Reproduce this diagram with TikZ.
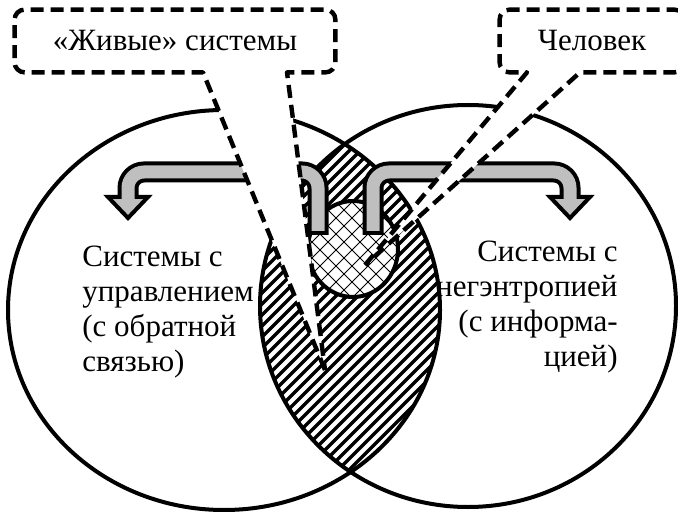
\documentclass[tikz,border=0pt]{standalone}
\usepackage{fontspec}
\setmainfont{Liberation Serif}
\newcommand{\bodysz}{\fontsize{15.5}{17.5}\selectfont}

\begin{document}
\begin{tikzpicture}[
  x=0.5pt, y=-0.5pt,
  ring/.style={line width=2pt},
  hatch/.style={line width=1.7pt},
  xhatch/.style={line width=0.4pt},
  shaftout/.style={line width=10.5pt, rounded corners=8pt},
  shaftin/.style={line width=6.5pt, gray!50, rounded corners=8pt},
  head/.style={draw, line width=2pt, fill=gray!50, line join=miter},
  callout/.style={draw, line width=2.2pt, dash pattern=on 6.5pt off 3.5pt, fill=white, line join=round},
  boxframe/.style={inner sep=0pt, minimum height=31pt},
  txt/.style={font=\bodysz, inner sep=0pt},
]
  \useasboundingbox (0,0) rectangle (678,512);

  % lens of the two sets
  \begin{scope}
    \clip (224,310) ellipse [x radius=216, y radius=200];
    \clip (468,306) ellipse [x radius=208, y radius=201];
    \foreach \s in {-90,-79,...,460} \draw[hatch] (\s,480) -- ++(400,-400);
  \end{scope}

  % the small set inside the lens
  \fill[white] (353,249) ellipse [x radius=45, y radius=48];
  \begin{scope}
    \clip (353,249) ellipse [x radius=45, y radius=48];
    \foreach \s in {180,196,...,410} \draw[xhatch] (\s,310) -- ++(125,-125);
    \foreach \s in {300,316,...,530} \draw[xhatch] (\s,310) -- ++(-125,-125);
  \end{scope}
  \draw[ring] (353,249) ellipse [x radius=45, y radius=48];

  \draw[ring] (224,310) ellipse [x radius=216, y radius=200];
  \draw[ring] (468,306) ellipse [x radius=208, y radius=201];

  \node[txt, anchor=north west, align=left] (ctrl) at (82,246)
    {Системы с\\управлением\\(с обратной\\связью)};
  \node[txt, anchor=north east, align=right] (negent) at (618,241)
    {Системы с\\негэнтропией\\(с информа-\\цией)};

  % bent arrows out of the lens
  \draw[shaftout] (318,235) -- (318,172) -- (128,172) -- (128,197);
  \draw[head] (108,197) -- (148,197) -- (128,218) -- cycle;
  \draw[shaftin] (318,231) -- (318,172) -- (128,172) -- (128,200);

  \draw[shaftout] (373,235) -- (373,172) -- (570,172) -- (570,197);
  \draw[head] (550,197) -- (590,197) -- (570,218) -- cycle;
  \draw[shaftin] (373,231) -- (373,172) -- (570,172) -- (570,200);

  % callouts
  \node[boxframe, minimum width=160pt] (live) at (175,41) {};
  \coordinate (livetip) at (325,370);
  \draw[callout] (livetip) -- (203,0 |- live.south) [rounded corners=5pt] -- (live.south west)
    -- (live.north west) -- (live.north east) -- (live.south east) [sharp corners] -- (287,0 |- live.south) -- cycle;
  \node[txt] (livetxt) at (live) {«Живые» системы};

  \node[boxframe, minimum width=92pt] (human) at (592,41) {};
  \coordinate (humantip) at (365,265);
  \draw[callout] (humantip) -- (527,0 |- human.south) [rounded corners=5pt] -- (human.south west)
    -- (human.north west) -- (human.north east) -- (human.south east) [sharp corners] -- (580,0 |- human.south) -- cycle;
  \node[txt] (humantxt) at (human) {Человек};
\end{tikzpicture}
\end{document}
